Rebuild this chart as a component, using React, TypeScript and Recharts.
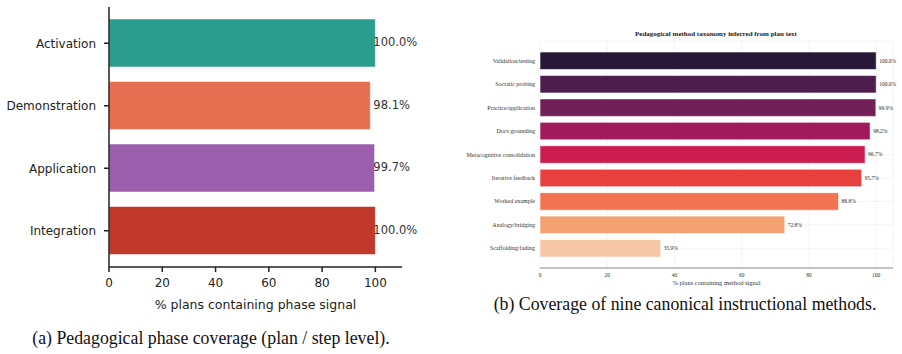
import React from "react";
import { BarChart, Bar, XAxis, YAxis, CartesianGrid, Cell, LabelList, Label } from "recharts";

// (a) phase coverage
const phases = ["Activation", "Demonstration", "Application", "Integration"];
const phaseValues = [100.0, 98.1, 99.7, 100.0];
const phaseColors = ["#2a9d8f", "#e76f51", "#9b5fae", "#c0392b"];
const phaseTicks = [0, 20, 40, 60, 80, 100];

// (b) method taxonomy
const methods = [
  "Validation/testing",
  "Socratic probing",
  "Practice/application",
  "Docs grounding",
  "Metacognitive consolidation",
  "Iterative feedback",
  "Worked example",
  "Analogy/bridging",
  "Scaffolding/fading",
];
const methodValues = [100.0, 100.0, 99.9, 98.2, 96.7, 95.7, 88.8, 72.8, 35.9];
const methodColors = [
  "#281737", "#4d1d4c", "#721f57", "#a11a5b", "#cb1b4f",
  "#e83f3f", "#f2734f", "#f4a071", "#f6c6a7",
];
const methodTicks = [0, 20, 40, 60, 80, 100];

const phaseData = phases.map((name, i) => ({ name, value: phaseValues[i] }));
const methodData = methods.map((name, i) => ({ name, value: methodValues[i] }));

const SANS = "'DejaVu Sans', sans-serif";
const SERIF = "'Liberation Serif', 'Times New Roman', serif";

// value labels in (a) sit just left of the 100 mark, like the original
const PhaseLabel = (props: any) => {
  const { x, y, width, height, value } = props;
  const at100 = x + (width / value) * 100;
  return (
    <text x={at100 - 2} y={y + height / 2 - 1} dy="0.35em" fontSize={11.5} fill="#333" fontFamily={SANS}>
      {value.toFixed(1)}%
    </text>
  );
};

// plain tick text so long method names don't wrap
const MethodTick = (props: any) => {
  const { x, y, payload } = props;
  return (
    <text x={x} y={y} dy="0.35em" textAnchor="end" fontSize={6} fill="#333" fontFamily={SERIF}>
      {payload.value}
    </text>
  );
};

export default function App() {
  return (
    <div style={{ position: "absolute", left: 0, top: 0, width: 902, height: 354, background: "#fff" }}>
      <div style={{ position: "absolute", left: 0, top: 0 }}>
        <BarChart
          width={460}
          height={320}
          data={phaseData}
          layout="vertical"
          margin={{ top: 7, right: 58, bottom: 23, left: 0 }}
        >
          <XAxis
            type="number"
            domain={[0, 110]}
            ticks={phaseTicks}
            stroke="#222"
            strokeWidth={1.5}
            tickSize={5}
            tickMargin={6}
            height={30}
            tick={{ fontSize: 12, fill: "#222", fontFamily: SANS }}
          >
            <Label
              value="% plans containing phase signal"
              position="insideBottom"
              offset={-12}
              style={{ fontSize: 12.5, fill: "#222", fontFamily: SANS }}
            />
          </XAxis>
          <YAxis
            type="category"
            dataKey="name"
            width={109}
            stroke="#222"
            strokeWidth={1.5}
            tickSize={5}
            tickMargin={8}
            padding={{ top: 5, bottom: 5 }}
            tick={{ fontSize: 12, fill: "#222", fontFamily: SANS }}
          />
          <Bar dataKey="value" barSize={48} isAnimationActive={false} stroke="#ffffff" strokeOpacity={0.5} strokeWidth={1}>
            {phaseData.map((d, i) => (
              <Cell key={d.name} fill={phaseColors[i]} />
            ))}
            <LabelList dataKey="value" content={PhaseLabel} />
          </Bar>
        </BarChart>
      </div>

      <div
        style={{
          position: "absolute",
          left: 0,
          width: 422,
          top: 328,
          textAlign: "center",
          fontFamily: SERIF,
          fontSize: 17.8,
          lineHeight: "20px",
          color: "#111",
          whiteSpace: "nowrap",
        }}
      >
        (a) Pedagogical phase coverage (plan / step level).
      </div>

      <div style={{ position: "absolute", left: 460, top: 0 }}>
        <BarChart
          width={442}
          height={300}
          data={methodData}
          layout="vertical"
          margin={{ top: 41, right: 9, bottom: 12, left: 0 }}
        >
          <text x={256} y={34} textAnchor="middle" dominantBaseline="central" fontFamily={SERIF} fontSize={7} fontWeight="bold" fill="#222">
            Pedagogical method taxonomy inferred from plan text
          </text>
          <CartesianGrid stroke="#ececec" strokeWidth={0.6} />
          <XAxis
            type="number"
            domain={[0, 105]}
            ticks={methodTicks}
            stroke="#b0b0b0"
            strokeWidth={1.4}
            tickLine={false}
            tickSize={0}
            tickMargin={5}
            height={20}
            tick={{ fontSize: 5.5, fill: "#333", fontFamily: SERIF }}
          >
            <Label
              value="% plans containing method signal"
              position="insideBottom"
              offset={3}
              style={{ fontSize: 6.5, fill: "#333", fontFamily: SERIF }}
            />
          </XAxis>
          <YAxis
            type="category"
            dataKey="name"
            width={80}
            axisLine={false}
            tickLine={false}
            tickSize={0}
            tickMargin={5}
            padding={{ top: 8, bottom: 8 }}
            tick={<MethodTick />}
          />
          <Bar dataKey="value" barSize={17.5} isAnimationActive={false} stroke="#ffffff" strokeOpacity={0.6} strokeWidth={1}>
            {methodData.map((d, i) => (
              <Cell key={d.name} fill={methodColors[i]} />
            ))}
            <LabelList
              dataKey="value"
              position="right"
              offset={3}
              formatter={(v: any) => `${Number(v).toFixed(1)}%`}
              style={{ fontSize: 5.5, fill: "#333", fontFamily: SERIF }}
            />
          </Bar>
        </BarChart>
      </div>

      <div
        style={{
          position: "absolute",
          left: 455,
          width: 460,
          top: 294,
          textAlign: "center",
          fontFamily: SERIF,
          fontSize: 17.8,
          lineHeight: "20px",
          color: "#111",
          whiteSpace: "nowrap",
        }}
      >
        (b) Coverage of nine canonical instructional methods.
      </div>
    </div>
  );
}
